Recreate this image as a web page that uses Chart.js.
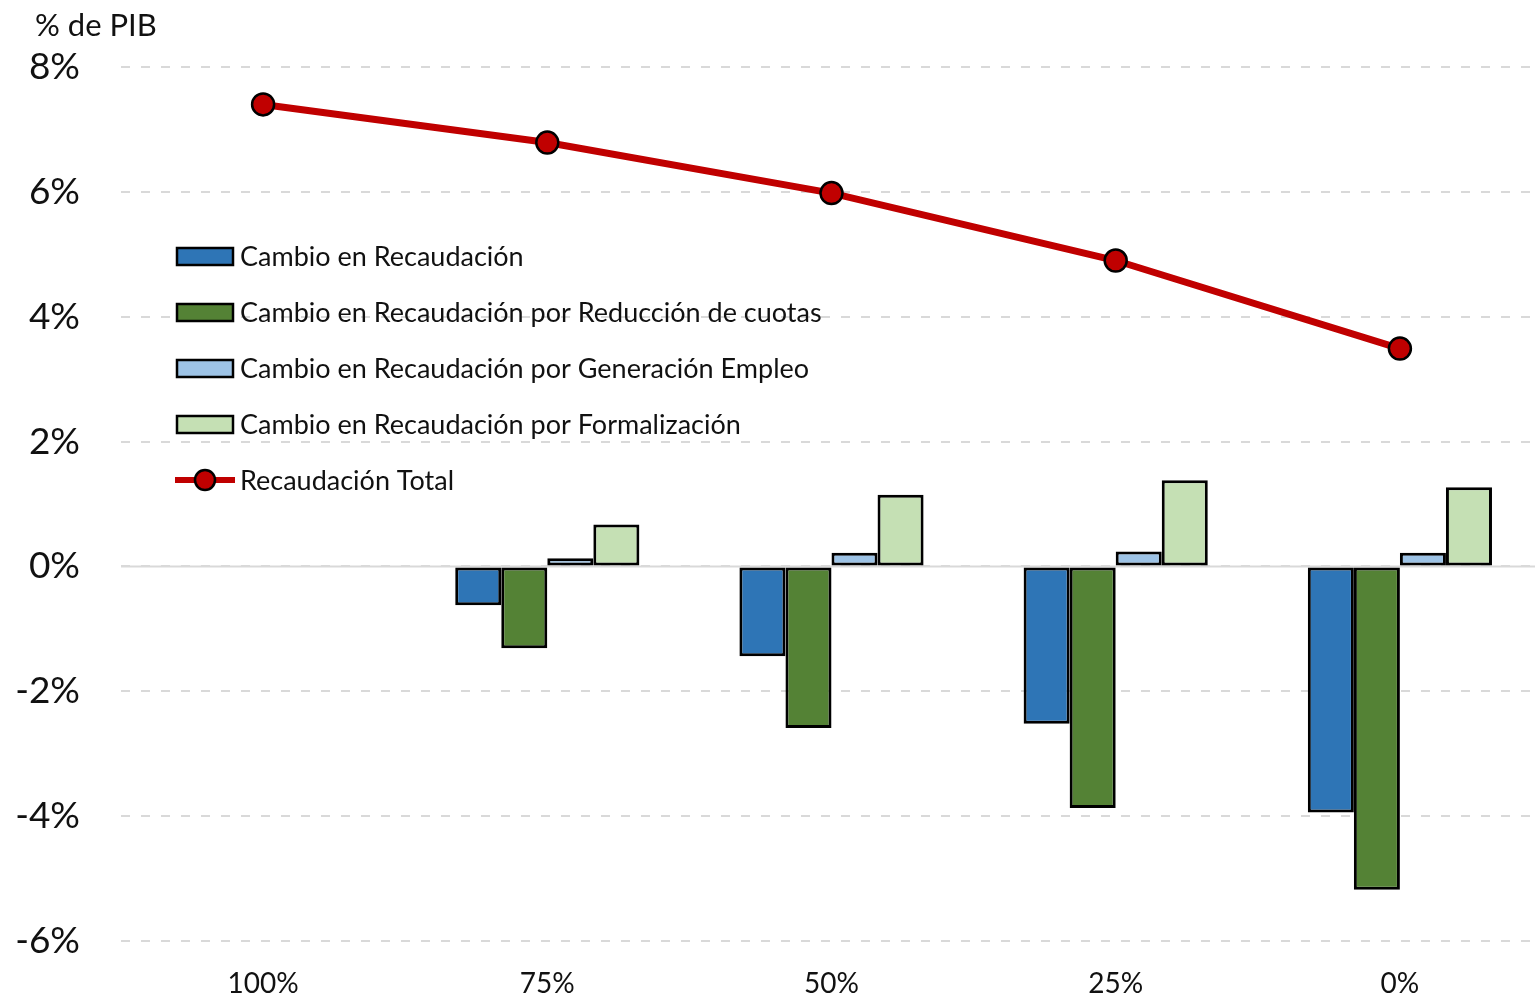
<!DOCTYPE html>
<html>
<head>
<meta charset="utf-8">
<script src="https://cdn.jsdelivr.net/npm/chart.js@4"></script>
<style>
  html, body { margin: 0; padding: 0; background: #fff; overflow: hidden; }
  #wrap { width: 1550px; height: 996px; }
</style>
</head>
<body>
<div id="wrap"><canvas id="myChart" width="1550" height="996"></canvas></div>
<script>
// data (% of GDP)
var categories = ['100%', '75%', '50%', '25%', '0%'];
var cambio = [0, -0.62, -1.44, -2.52, -3.94];
var reduccion = [0, -1.31, -2.59, -3.87, -5.18];
var empleo = [0, 0.13, 0.22, 0.24, 0.22];
var formalizacion = [0, 0.67, 1.15, 1.38, 1.27];
var total = [7.40, 6.79, 5.98, 4.90, 3.49];
var yTicks = [-6, -4, -2, 0, 2, 4, 6, 8];

var FONT = 'Lato, "Noto Sans", sans-serif';
var TEXT = '#111';

// zero line, solid, under the bars
var zeroLine = {
    id: 'zeroLine',
    beforeDatasetsDraw: function (chart) {
        var ctx = chart.ctx;
        var y = chart.scales.y.getPixelForValue(0);
        ctx.save();
        ctx.strokeStyle = '#d9d9d9';
        ctx.lineWidth = 2;
        ctx.beginPath();
        ctx.moveTo(chart.chartArea.left, y);
        ctx.lineTo(chart.chartArea.right, y);
        ctx.stroke();
        ctx.restore();
    }
};

// title + legend inside the plot
var extras = {
    id: 'extras',
    afterDraw: function (chart) {
        var ctx = chart.ctx;
        ctx.save();
        ctx.fillStyle = TEXT;
        ctx.textBaseline = 'middle';
        ctx.textAlign = 'left';
        ctx.font = '31px ' + FONT;
        ctx.fillText('% de PIB', 35, 26);

        ctx.font = '27px ' + FONT;
        var y0 = 256, step = 56;
        chart.data.datasets.forEach(function (ds, i) {
            var y = y0 + i * step;
            if (ds.type === 'line') {
                ctx.strokeStyle = ds.borderColor;
                ctx.lineWidth = 6;
                ctx.beginPath();
                ctx.moveTo(175, y);
                ctx.lineTo(235, y);
                ctx.stroke();
                ctx.beginPath();
                ctx.arc(205, y, 10, 0, Math.PI * 2);
                ctx.fillStyle = ds.pointBackgroundColor;
                ctx.fill();
                ctx.lineWidth = 2.5;
                ctx.strokeStyle = '#000';
                ctx.stroke();
            } else {
                ctx.fillStyle = ds.backgroundColor;
                ctx.fillRect(177, y - 8, 56, 17);
                ctx.lineWidth = 2.5;
                ctx.strokeStyle = '#000';
                ctx.strokeRect(177, y - 8, 56, 17);
            }
            ctx.fillStyle = TEXT;
            ctx.fillText(ds.label, 240, y + 1);
        });
        ctx.restore();
    }
};

function barSet(label, data, color) {
    return {
        type: 'bar',
        label: label,
        data: data,
        backgroundColor: color,
        borderColor: '#000',
        borderWidth: 3,
        borderSkipped: false,
        categoryPercentage: 0.648,
        barPercentage: 1,
        order: 1
    };
}

var ctx = document.getElementById('myChart').getContext('2d');
var myChart = new Chart(ctx, {
    type: 'bar',
    data: {
        labels: categories,
        datasets: [
            barSet('Cambio en Recaudación', cambio, '#2e75b6'),
            barSet('Cambio en Recaudación por Reducción de cuotas', reduccion, '#548235'),
            barSet('Cambio en Recaudación por Generación Empleo', empleo, '#9dc3e6'),
            barSet('Cambio en Recaudación por Formalización', formalizacion, '#c5e0b4'),
            {
                type: 'line',
                label: 'Recaudación Total',
                data: total,
                borderColor: '#c00000',
                borderWidth: 7,
                pointRadius: 11,
                pointBackgroundColor: '#c00000',
                pointBorderColor: '#000',
                pointBorderWidth: 2.5,
                tension: 0,
                order: 0
            }
        ]
    },
    options: {
        responsive: false,
        animation: false,
        layout: { autoPadding: false, padding: { top: 67, right: 8, left: 0, bottom: 0 } },
        plugins: {
            legend: { display: false },
            tooltip: { enabled: false }
        },
        scales: {
            x: {
                grid: { display: false, drawTicks: false },
                border: { display: false },
                ticks: { font: { family: FONT, size: 28 }, color: TEXT, padding: 26 },
                afterFit: function (s) {
                    s.height = 55;
                    s.paddingLeft = 0;
                    s.paddingRight = 0;
                }
            },
            y: {
                min: -6,
                max: 8,
                afterBuildTicks: function (s) {
                    s.ticks = yTicks.map(function (v) { return { value: v }; });
                },
                grid: { color: '#d9d9d9', lineWidth: 2, drawTicks: false },
                border: { display: false, dash: [9, 11] },
                ticks: {
                    font: { family: FONT, size: 37 },
                    color: TEXT,
                    padding: 41,
                    callback: function (v) { return v + '%'; }
                },
                afterFit: function (s) {
                    s.width = 121;
                    s.paddingTop = 0;
                    s.paddingBottom = 0;
                }
            }
        }
    },
    plugins: [zeroLine, extras]
});
</script>
</body>
</html>
